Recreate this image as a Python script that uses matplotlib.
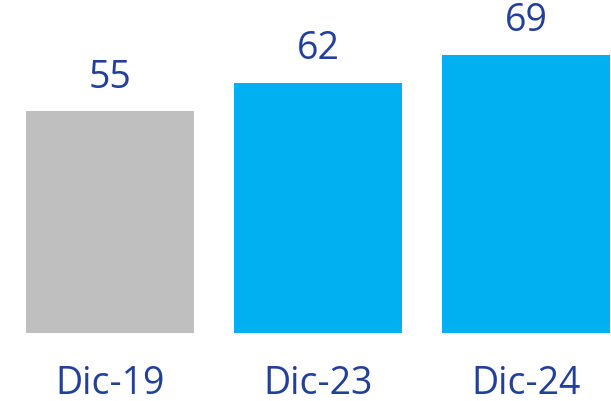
import matplotlib
matplotlib.use("Agg")
import matplotlib.pyplot as plt

# Data
periods = ["Dic-19", "Dic-23", "Dic-24"]
values = [55, 62, 69]
bar_colors = ["#BFBFBF", "#00B0F0", "#00B0F0"]
text_color = "#22409A"

plt.rcParams['font.family'] = ['Open Sans', 'DejaVu Sans']

fig = plt.figure(figsize=(6.11, 4.02), dpi=100)
ax = fig.add_axes([0, 68 / 402, 1, 334 / 402])

x = list(range(len(periods)))
bars = ax.bar(x, values, width=168 / 208, color=bar_colors)

for xi, v in zip(x, values):
    ax.annotate(str(v), (xi, v), xytext=(0, 11), textcoords="offset points",
                ha="center", va="bottom", fontsize=27, color=text_color)

ax.set_xlim(-110 / 208, 501 / 208)
ax.set_ylim(0, 334 / 4.036)
ax.set_xticks(x)
ax.set_xticklabels(periods, fontsize=27, color=text_color)
ax.tick_params(axis="x", length=0, pad=22)
ax.set_yticks([])
for s in ax.spines.values():
    s.set_visible(False)

fig.savefig("out.png", dpi=100)
